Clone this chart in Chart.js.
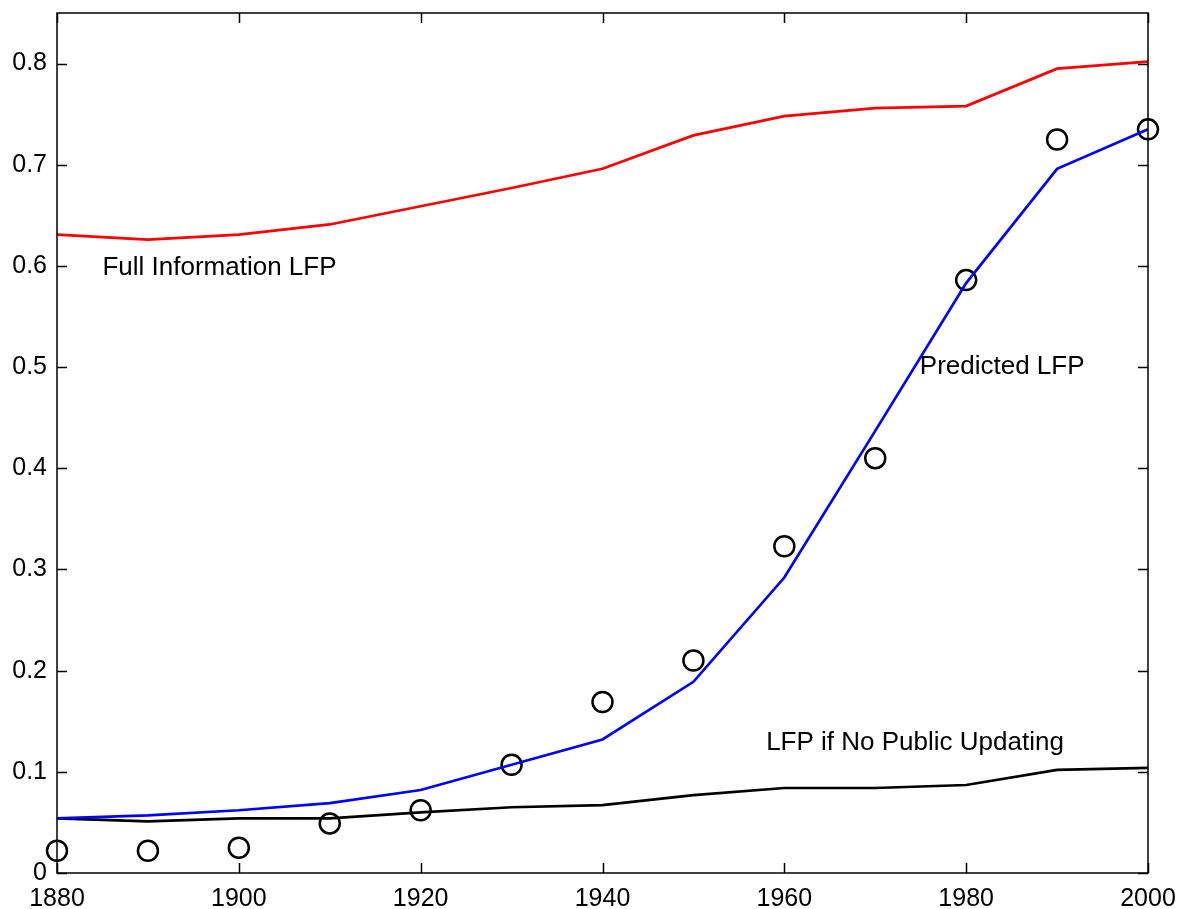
<!DOCTYPE html>
<html>
<head>
<meta charset="utf-8">
<script src="https://cdn.jsdelivr.net/npm/chart.js@4/dist/chart.umd.min.js"></script>
<style>
  html, body { margin: 0; padding: 0; background: #fff; }
  #wrap { width: 1182px; height: 909px; }
</style>
</head>
<body>
<div id="wrap"><canvas id="lfpChart"></canvas></div>
<script>
const years = [1880, 1890, 1900, 1910, 1920, 1930, 1940, 1950, 1960, 1970, 1980, 1990, 2000];
const fullInfo = [0.631, 0.626, 0.631, 0.641, 0.659, 0.677, 0.696, 0.729, 0.748, 0.756, 0.758, 0.795, 0.802];
const predicted = [0.054, 0.057, 0.062, 0.069, 0.082, 0.107, 0.132, 0.189, 0.292, 0.437, 0.583, 0.696, 0.735];
const noUpdating = [0.054, 0.051, 0.054, 0.054, 0.060, 0.065, 0.067, 0.077, 0.084, 0.084, 0.087, 0.102, 0.104];
const actual = [0.022, 0.022, 0.025, 0.049, 0.062, 0.107, 0.169, 0.210, 0.323, 0.410, 0.586, 0.725, 0.735];
const xTicks = [1880, 1900, 1920, 1940, 1960, 1980, 2000];
const yTicks = [0, 0.1, 0.2, 0.3, 0.4, 0.5, 0.6, 0.7, 0.8];
const labels = [
  { text: 'Full Information LFP', x: 1885.0, y: 0.598 },
  { text: 'Predicted LFP', x: 1974.9, y: 0.500 },
  { text: 'LFP if No Public Updating', x: 1958.0, y: 0.129 }
];

const toPoints = (vals) => years.map((yr, i) => ({ x: yr, y: vals[i] }));
const FONT = '"Liberation Sans", Arial, Helvetica, sans-serif';

// box round the plot with ticks pointing inward, plus the text labels
const framePlugin = {
  id: 'frame',
  afterDatasetsDraw(chart) {
    const { ctx, chartArea: a, scales } = chart;
    const len = 10;
    ctx.save();
    ctx.strokeStyle = '#000';
    ctx.lineWidth = 1.5;
    ctx.strokeRect(a.left, a.top, a.right - a.left, a.bottom - a.top);
    ctx.beginPath();
    xTicks.forEach(v => {
      const px = Math.round(scales.x.getPixelForValue(v)) + 0.5;
      ctx.moveTo(px, a.bottom); ctx.lineTo(px, a.bottom - len);
      ctx.moveTo(px, a.top); ctx.lineTo(px, a.top + len);
    });
    yTicks.forEach(v => {
      const py = Math.round(scales.y.getPixelForValue(v)) + 0.5;
      ctx.moveTo(a.left, py); ctx.lineTo(a.left + len, py);
      ctx.moveTo(a.right, py); ctx.lineTo(a.right - len, py);
    });
    ctx.stroke();

    ctx.fillStyle = '#000';
    ctx.font = '26px ' + FONT;
    ctx.textBaseline = 'middle';
    ctx.textAlign = 'left';
    labels.forEach(l => {
      ctx.fillText(l.text, scales.x.getPixelForValue(l.x), scales.y.getPixelForValue(l.y));
    });
    ctx.restore();
  }
};

const lineStyle = (color) => ({
  borderColor: color,
  backgroundColor: color,
  borderWidth: 2.7,
  pointRadius: 0,
  tension: 0,
  fill: false
});

new Chart(document.getElementById('lfpChart'), {
  type: 'line',
  data: {
    datasets: [
      { label: 'Full Information LFP', data: toPoints(fullInfo), ...lineStyle('#ff0000') },
      { label: 'Predicted LFP', data: toPoints(predicted), ...lineStyle('#0000ff') },
      { label: 'LFP if No Public Updating', data: toPoints(noUpdating), ...lineStyle('#000000') },
      {
        label: 'Actual LFP',
        data: toPoints(actual),
        showLine: false,
        pointStyle: 'circle',
        pointRadius: 10,
        pointBorderWidth: 2.5,
        pointBorderColor: '#000',
        pointBackgroundColor: 'rgba(0,0,0,0)',
        clip: false
      }
    ]
  },
  plugins: [framePlugin],
  options: {
    responsive: true,
    maintainAspectRatio: false,
    animation: false,
    layout: { padding: { top: 13, right: 34, left: 0, bottom: 0 } },
    scales: {
      x: {
        type: 'linear',
        min: 1880,
        max: 2000,
        grid: { display: false, drawTicks: false },
        border: { display: false },
        ticks: {
          stepSize: 20,
          padding: 11,
          color: '#000',
          font: { size: 25, family: FONT },
          maxRotation: 0,
          callback: v => String(v)
        },
        afterFit: s => { s.height = 36; s.paddingLeft = 0; s.paddingRight = 0; }
      },
      y: {
        min: 0,
        max: 0.85,
        grid: { display: false, drawTicks: false },
        border: { display: false },
        ticks: {
          stepSize: 0.1,
          includeBounds: false,
          padding: 10,
          color: '#000',
          font: { size: 25, family: FONT },
          callback: v => String(Number(v.toFixed(1)))
        },
        afterFit: s => { s.width = 57; s.paddingTop = 0; s.paddingBottom = 0; }
      }
    },
    plugins: {
      legend: { display: false },
      tooltip: { enabled: false }
    }
  }
});
</script>
</body>
</html>
